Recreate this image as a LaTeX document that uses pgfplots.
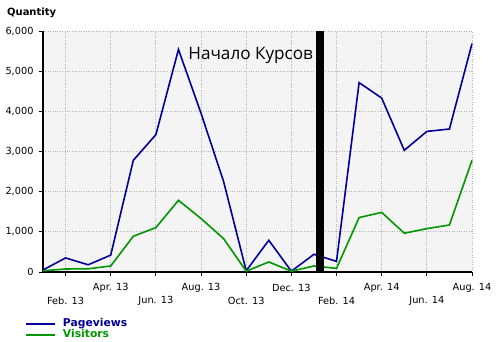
\documentclass[border=0pt]{standalone}
\usepackage{fontspec}
\setmainfont{DejaVu Sans}
\newfontfamily\annfont{Open Sans}
\usepackage{pgfplots}
\pgfplotsset{compat=1.18}
\definecolor{pvc}{RGB}{0,0,150}
\definecolor{vic}{RGB}{0,150,0}
\definecolor{bgc}{RGB}{244,244,244}
\begin{document}
\begin{tikzpicture}
\path[use as bounding box] (-43bp,-70bp) rectangle (457bp,272bp);
\begin{axis}[
  scale only axis,
  width=429bp, height=241bp,
  xmin=0, xmax=19, ymin=0, ymax=6000,
  axis x line=bottom, axis y line=left,
  axis line style={-, line width=2bp, black},
  axis background/.style={fill=bgc},
  xtick={1,5,9,13,17},
  xticklabels={Feb. 13, Jun. 13, Oct. 13, Feb. 14, Jun. 14},
  extra x ticks={3,7,11,15,19},
  extra x tick labels={Apr. 13, Aug. 13, Dec. 13, Apr. 14, Aug. 14},
  extra x tick style={grid=major, xticklabel style={yshift=13bp}},
  xticklabel style={anchor=center, yshift=-25bp, font=\fontsize{9.8}{10}\selectfont},
  ytick={0,1000,...,6000},
  yticklabel style={font=\fontsize{9.8}{10}\selectfont, xshift=-2bp},
  /pgf/number format/1000 sep={,},
  /pgf/number format/assume math mode=true,
  scaled y ticks=false,
  tick align=outside,
  major tick length=4bp,
  tick style={black, line width=1bp},
  grid=major,
  major grid style={gray!60, dotted, line width=0.8bp},
  clip=false,
  legend style={at={(axis description cs:-0.042,-0.192)}, anchor=north west, draw=none, fill=none,
    inner sep=0pt, outer sep=0pt,
    font=\bfseries\fontsize{10.8}{10.8}\selectfont, row sep=0pt, column sep=0pt,
    nodes={inner sep=0pt, text height=8bp, text depth=3bp}},
  legend cell align=left,
  legend image code/.code={\draw[#1, line width=2bp] (0bp,0bp) -- (29bp,0bp);},
  legend style={/tikz/every odd column/.append style={column sep=7bp}},
]
\addplot[pvc, line width=1.6bp] coordinates {
(0,50) (1,350) (2,180) (3,420) (4,2780) (5,3420) (6,5540) (7,3950) (8,2250) (9,30)
(10,790) (11,20) (12,440) (13,265) (14,4715) (15,4330) (16,3030) (17,3500) (18,3560) (19,5685)};
\addlegendentry{\textcolor{pvc}{Pageviews}}
\addplot[vic, line width=1.6bp] coordinates {
(0,30) (1,75) (2,80) (3,150) (4,890) (5,1105) (6,1785) (7,1330) (8,830) (9,20)
(10,250) (11,20) (12,150) (13,90) (14,1355) (15,1485) (16,965) (17,1080) (18,1170) (19,2780)};
\addlegendentry{\textcolor{vic}{Visitors}}
\addplot[black, line width=8bp, forget plot] coordinates {(12.28,0) (12.28,6000)};
\node[anchor=base west, inner sep=0, font=\annfont\fontsize{17.2}{17}\selectfont] at (axis cs:6.43,5295) {Начало Курсов};
\node[anchor=west, inner sep=0, font=\bfseries\fontsize{10}{10}\selectfont] at ([xshift=-36bp,yshift=18bp]axis description cs:0,1) {Quantity};
\end{axis}
\end{tikzpicture}
\end{document}
